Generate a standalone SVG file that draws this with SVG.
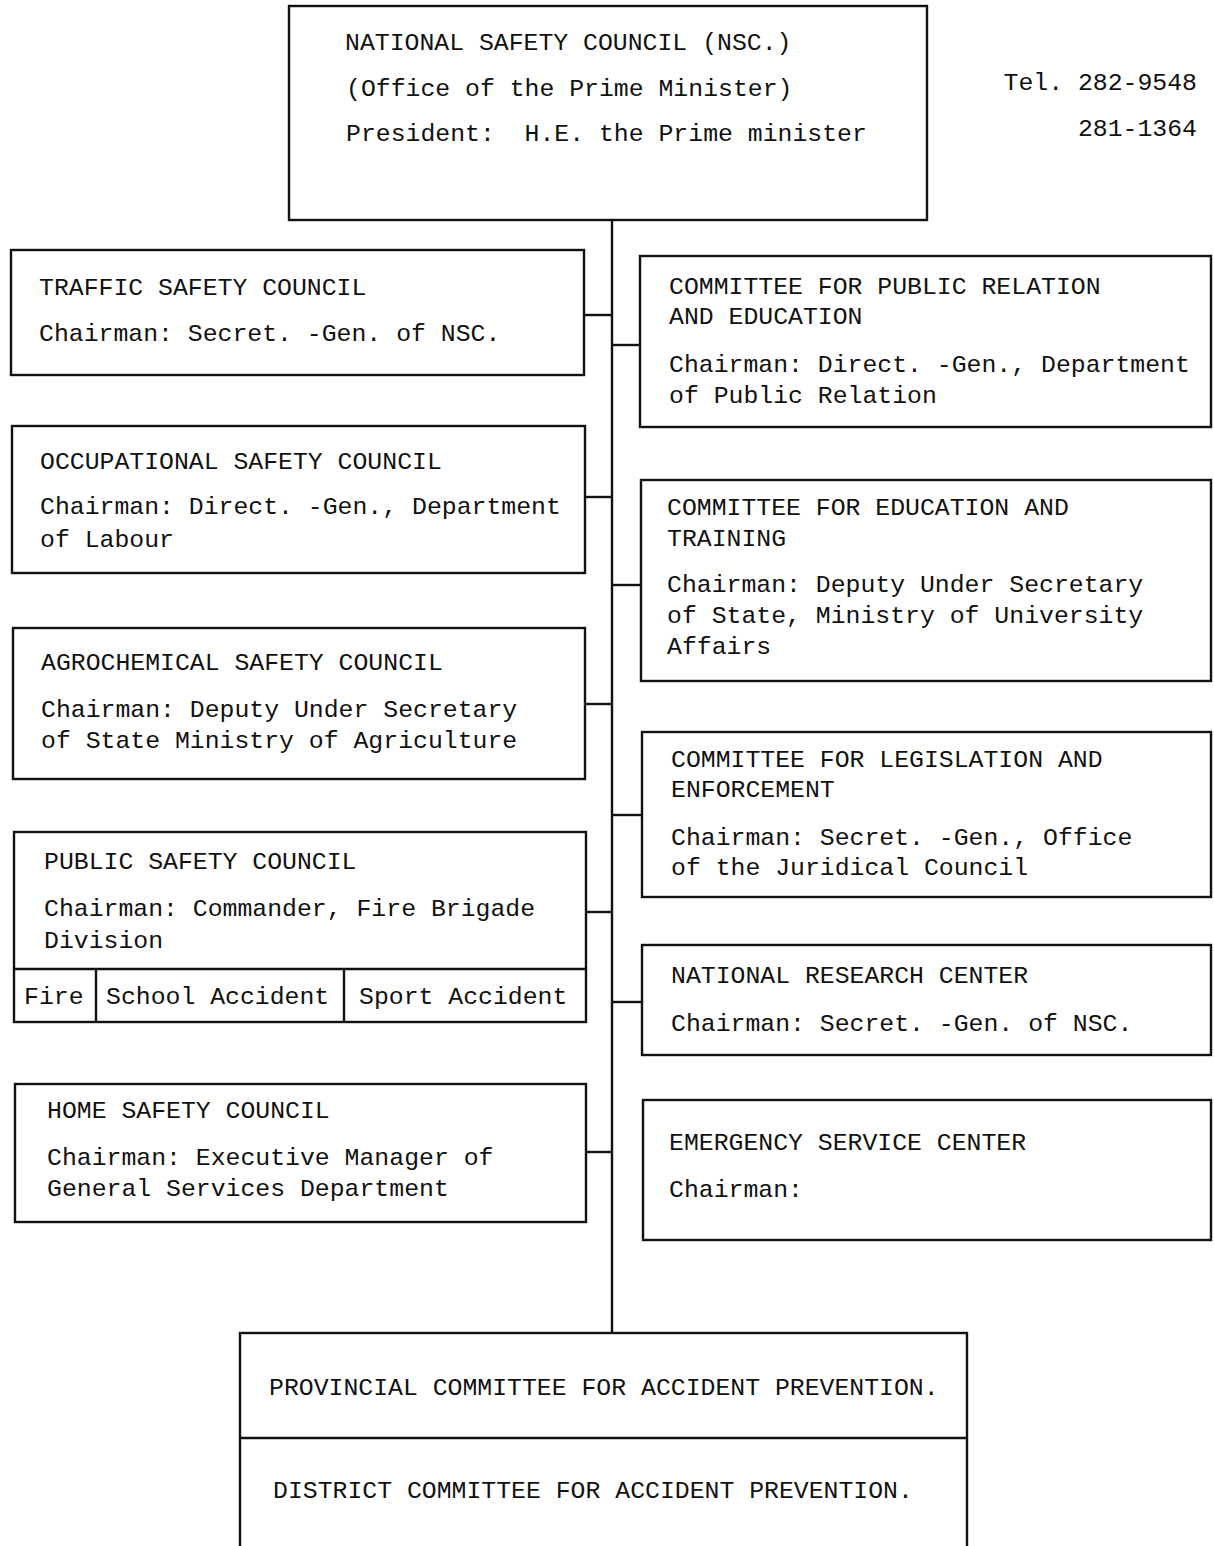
<svg xmlns="http://www.w3.org/2000/svg" width="1214" height="1546" viewBox="0 0 1214 1546">
<style>
rect.box{fill:none;stroke:#111;stroke-width:2.4}
line{stroke:#111;stroke-width:2.4}
text{font-family:"Liberation Mono","DejaVu Sans Mono",monospace;font-size:24.8px;fill:#111;white-space:pre}
</style>
<rect width="1214" height="1546" fill="#fff"/>
<g id="connectors">
<line x1="612" y1="220" x2="612" y2="1333"/>
<line x1="584" y1="315" x2="612" y2="315"/>
<line x1="612" y1="345" x2="640" y2="345"/>
<line x1="585" y1="497" x2="612" y2="497"/>
<line x1="612" y1="585" x2="641" y2="585"/>
<line x1="585" y1="704" x2="612" y2="704"/>
<line x1="612" y1="815" x2="642" y2="815"/>
<line x1="586" y1="912" x2="612" y2="912"/>
<line x1="612" y1="1002" x2="642" y2="1002"/>
<line x1="586" y1="1152" x2="612" y2="1152"/>
</g>
<g id="nsc">
<rect class="box" x="289" y="6" width="638" height="214"/>
<text x="345" y="50">NATIONAL SAFETY COUNCIL (NSC.)</text>
<text x="346" y="96">(Office of the Prime Minister)</text>
<text x="346" y="141" xml:space="preserve">President:  H.E. the Prime minister</text>
</g>
<g id="tel">
<text x="1197" y="90" text-anchor="end">Tel. 282-9548</text>
<text x="1197" y="136" text-anchor="end">281-1364</text>
</g>
<g id="traffic">
<rect class="box" x="11" y="250" width="573" height="125"/>
<text x="39" y="295">TRAFFIC SAFETY COUNCIL</text>
<text x="39" y="341">Chairman: Secret. -Gen. of NSC.</text>
</g>
<g id="pr">
<rect class="box" x="640" y="256" width="571" height="171"/>
<text x="669" y="294">COMMITTEE FOR PUBLIC RELATION</text>
<text x="669" y="324">AND EDUCATION</text>
<text x="669" y="372">Chairman: Direct. -Gen., Department</text>
<text x="669" y="403">of Public Relation</text>
</g>
<g id="occupational">
<rect class="box" x="12" y="426" width="573" height="147"/>
<text x="40" y="469">OCCUPATIONAL SAFETY COUNCIL</text>
<text x="40" y="514">Chairman: Direct. -Gen., Department</text>
<text x="40" y="547">of Labour</text>
</g>
<g id="education">
<rect class="box" x="641" y="480" width="570" height="201"/>
<text x="667" y="515">COMMITTEE FOR EDUCATION AND</text>
<text x="667" y="546">TRAINING</text>
<text x="667" y="592">Chairman: Deputy Under Secretary</text>
<text x="667" y="623">of State, Ministry of University</text>
<text x="667" y="654">Affairs</text>
</g>
<g id="agrochemical">
<rect class="box" x="13" y="628" width="572" height="151"/>
<text x="41" y="670">AGROCHEMICAL SAFETY COUNCIL</text>
<text x="41" y="717">Chairman: Deputy Under Secretary</text>
<text x="41" y="748">of State Ministry of Agriculture</text>
</g>
<g id="legislation">
<rect class="box" x="642" y="732" width="569" height="165"/>
<text x="671" y="767">COMMITTEE FOR LEGISLATION AND</text>
<text x="671" y="797">ENFORCEMENT</text>
<text x="671" y="845">Chairman: Secret. -Gen., Office</text>
<text x="671" y="875">of the Juridical Council</text>
</g>
<g id="public">
<rect class="box" x="14" y="832" width="572" height="190"/>
<line x1="14" y1="969" x2="586" y2="969"/>
<line x1="96" y1="969" x2="96" y2="1022"/>
<line x1="344" y1="969" x2="344" y2="1022"/>
<text x="44" y="869">PUBLIC SAFETY COUNCIL</text>
<text x="44" y="916">Chairman: Commander, Fire Brigade</text>
<text x="44" y="948">Division</text>
<text x="24" y="1004">Fire</text>
<text x="106" y="1004">School Accident</text>
<text x="359" y="1004">Sport Accident</text>
</g>
<g id="research">
<rect class="box" x="642" y="945" width="569" height="110"/>
<text x="671" y="983">NATIONAL RESEARCH CENTER</text>
<text x="671" y="1031">Chairman: Secret. -Gen. of NSC.</text>
</g>
<g id="home">
<rect class="box" x="15" y="1084" width="571" height="138"/>
<text x="47" y="1118">HOME SAFETY COUNCIL</text>
<text x="47" y="1165">Chairman: Executive Manager of</text>
<text x="47" y="1196">General Services Department</text>
</g>
<g id="emergency">
<rect class="box" x="643" y="1100" width="568" height="140"/>
<text x="669" y="1150">EMERGENCY SERVICE CENTER</text>
<text x="669" y="1197">Chairman:</text>
</g>
<g id="provincial">
<rect class="box" x="240" y="1333" width="727" height="230"/>
<line x1="240" y1="1438" x2="967" y2="1438"/>
<text x="269" y="1395">PROVINCIAL COMMITTEE FOR ACCIDENT PREVENTION.</text>
</g>
<g id="district">
<text x="273" y="1498">DISTRICT COMMITTEE FOR ACCIDENT PREVENTION.</text>
</g>
</svg>
